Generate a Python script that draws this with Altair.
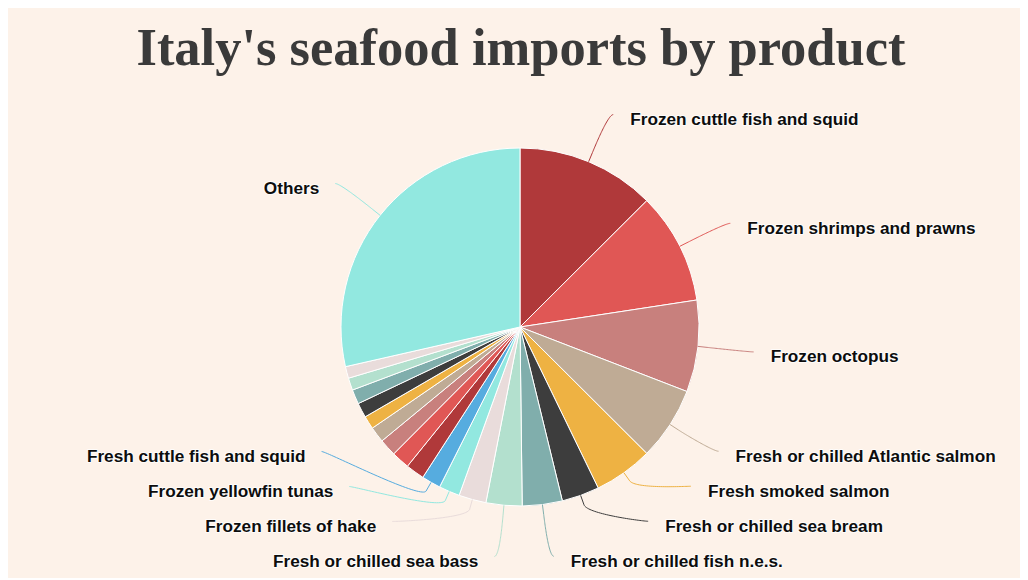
import math
import altair as alt
import pandas as pd

# ---------------- data ----------------
title_text = "Italy's seafood imports by product"

products = [
    "Frozen cuttle fish and squid",
    "Frozen shrimps and prawns",
    "Frozen octopus",
    "Fresh or chilled Atlantic salmon",
    "Fresh smoked salmon",
    "Fresh or chilled sea bream",
    "Fresh or chilled fish n.e.s.",
    "Fresh or chilled sea bass",
    "Frozen fillets of hake",
    "Frozen yellowfin tunas",
    "Fresh cuttle fish and squid",
    "", "", "", "", "", "", "", "", "",   # small unlabelled products
    "Others",
]
shares = [12.53, 10.06, 8.28, 6.61, 5.33, 3.39, 3.61, 3.25, 2.47, 1.89, 1.72,
          1.69, 1.64, 1.56, 1.42, 1.19, 1.33, 1.31, 1.11, 1.06, 28.56]

palette = ["#B0393A", "#E05755", "#C8807D", "#BFAB95", "#EEB243", "#3D3D3D",
           "#80AEAC", "#B3E0CE", "#E9DCDB", "#92E8E0", "#56ACDF"]

# ---------------- layout ----------------
W, H = 1012, 570
CX, CY = 512, 319
R_PIE = 179
LABEL_DIST = 51
RL = R_PIE + LABEL_DIST
CONN_OFFSET = 10
PAD = 5
TEXT_GAP_R, TEXT_GAP_L = 17, 16
BOX = 35
TOP, BOTTOM = 70, 566
BG = "#FDF2E9"

n = len(shares)
total = sum(shares)
colors = [palette[i % len(palette)] for i in range(n)]

# mid angles (radians, measured from 3 o'clock, clockwise on screen)
mids = []
acc = 0.0
for s in shares:
    a0 = acc / total * 360
    acc += s
    a1 = acc / total * 360
    mids.append(math.radians((a0 + a1) / 2 - 90))


def distribute(targets, size, lo, hi):
    order = sorted(range(len(targets)), key=lambda i: targets[i])
    boxes = [{"size": size, "targets": [targets[i]], "idx": [i]} for i in order]
    overlapping = True
    while overlapping:
        for b in boxes:
            mid = (min(b["targets"]) + max(b["targets"])) / 2
            b["pos"] = min(max(mid - b["size"] / 2, lo), hi - b["size"])
        overlapping = False
        i = len(boxes) - 1
        while i > 0:
            if boxes[i - 1]["pos"] + boxes[i - 1]["size"] > boxes[i]["pos"]:
                boxes[i - 1]["size"] += boxes[i]["size"]
                boxes[i - 1]["targets"] += boxes[i]["targets"]
                boxes[i - 1]["idx"] += boxes[i]["idx"]
                if boxes[i - 1]["pos"] + boxes[i - 1]["size"] > hi:
                    boxes[i - 1]["pos"] = hi - boxes[i - 1]["size"]
                boxes.pop(i)
                overlapping = True
            i -= 1
    out = {}
    for b in boxes:
        p = b["pos"]
        for j in b["idx"]:
            out[j] = p + size / 2
            p += size
    return out


def get_x(y, left):
    ratio = max(-1.0, min(1.0, (y - CY) / RL))
    d = math.cos(math.asin(ratio)) * RL + PAD
    return CX - d if left else CX + d


labelled = [i for i in range(n) if products[i]]
label_rows, conn_rows = [], []
for left in (False, True):
    members = [i for i in labelled if (math.cos(mids[i]) < 0) == left]
    naturals = [CY + RL * math.sin(mids[i]) for i in members]
    placed = distribute(naturals, BOX, TOP, BOTTOM)
    for k, i in enumerate(members):
        y = placed[k]
        nat = naturals[k]
        at_edge = abs(y - (BOTTOM - BOX / 2)) < 1.5 or abs(y - (TOP + BOX / 2)) < 1.5
        ex = get_x(nat if at_edge else y, left)
        tx = ex - TEXT_GAP_L if left else ex + TEXT_GAP_R
        label_rows.append({"name": products[i], "tx": tx, "ty": y, "side": "L" if left else "R"})
        a = mids[i]
        touch = (CX + R_PIE * math.cos(a), CY + R_PIE * math.sin(a))
        brk = (CX + (R_PIE + CONN_OFFSET) * math.cos(a), CY + (R_PIE + CONN_OFFSET) * math.sin(a))
        p0 = (ex, y)
        p1 = (ex + 5 if left else ex - 5, y)
        p2 = (2 * brk[0] - touch[0], 2 * brk[1] - touch[1])
        p3 = brk
        pts = []
        steps = 40
        for s in range(steps + 1):
            t = s / steps
            mt = 1 - t
            bx = mt**3 * p0[0] + 3 * mt * mt * t * p1[0] + 3 * mt * t * t * p2[0] + t**3 * p3[0]
            by = mt**3 * p0[1] + 3 * mt * mt * t * p1[1] + 3 * mt * t * t * p2[1] + t**3 * p3[1]
            pts.append((bx, by))
        pts.append(touch)
        for k2, (px, py) in enumerate(pts):
            conn_rows.append({"idx": i, "k": k2, "px": px, "py": py, "color": colors[i]})

slices = pd.DataFrame({"idx": list(range(n)), "share": shares, "color": colors})
labels = pd.DataFrame(label_rows)
conns = pd.DataFrame(conn_rows)

xs = alt.Scale(domain=[0, W], range=[0, W], nice=False, zero=False)
ys = alt.Scale(domain=[0, H], range=[0, H], nice=False, zero=False)

arc = alt.Chart(slices).mark_arc(radius=R_PIE, stroke="#ffffff", strokeWidth=1).encode(
    theta=alt.Theta("share:Q", stack=True),
    order=alt.Order("idx:Q", sort="ascending"),
    detail="idx:N",
    color=alt.Color("color:N", scale=None),
    x=alt.value(CX),
    y=alt.value(CY),
)

lines = alt.Chart(conns).mark_line(strokeWidth=1, interpolate="linear").encode(
    x=alt.X("px:Q", scale=xs, axis=None),
    y=alt.Y("py:Q", scale=ys, axis=None),
    detail="idx:N",
    order="k:Q",
    color=alt.Color("color:N", scale=None),
)

def text_layer(side, align, halo):
    props = dict(align=align, baseline="alphabetic", dy=10.5, font="Liberation Sans",
                 fontWeight="bold", fontSize=17.2)
    if halo:
        props.update(color="#ffffff", stroke="#ffffff", strokeWidth=2, strokeJoin="round", opacity=0.8)
    else:
        props.update(color="#0d0d0d")
    return alt.Chart(labels).transform_filter(alt.datum.side == side).mark_text(**props).encode(
        x=alt.X("tx:Q", scale=xs, axis=None),
        y=alt.Y("ty:Q", scale=ys, axis=None),
        text="name:N",
    )

title = alt.Chart(pd.DataFrame({"t": [title_text]})).mark_text(
    align="center", baseline="alphabetic", font="Liberation Serif", fontWeight="bold",
    fontSize=52.5, color="#3A3A3A",
).encode(x=alt.value(513), y=alt.value(57), text="t:N")

chart = alt.layer(
    arc, lines,
    text_layer("R", "left", True), text_layer("R", "left", False),
    text_layer("L", "right", True), text_layer("L", "right", False),
    title,
).properties(
    width=W, height=H, background=BG, padding=0,
    autosize=alt.AutoSizeParams(type="none"),
).configure_view(stroke=None)

chart.save("out.html", embed_options={"renderer": "svg", "actions": False})
